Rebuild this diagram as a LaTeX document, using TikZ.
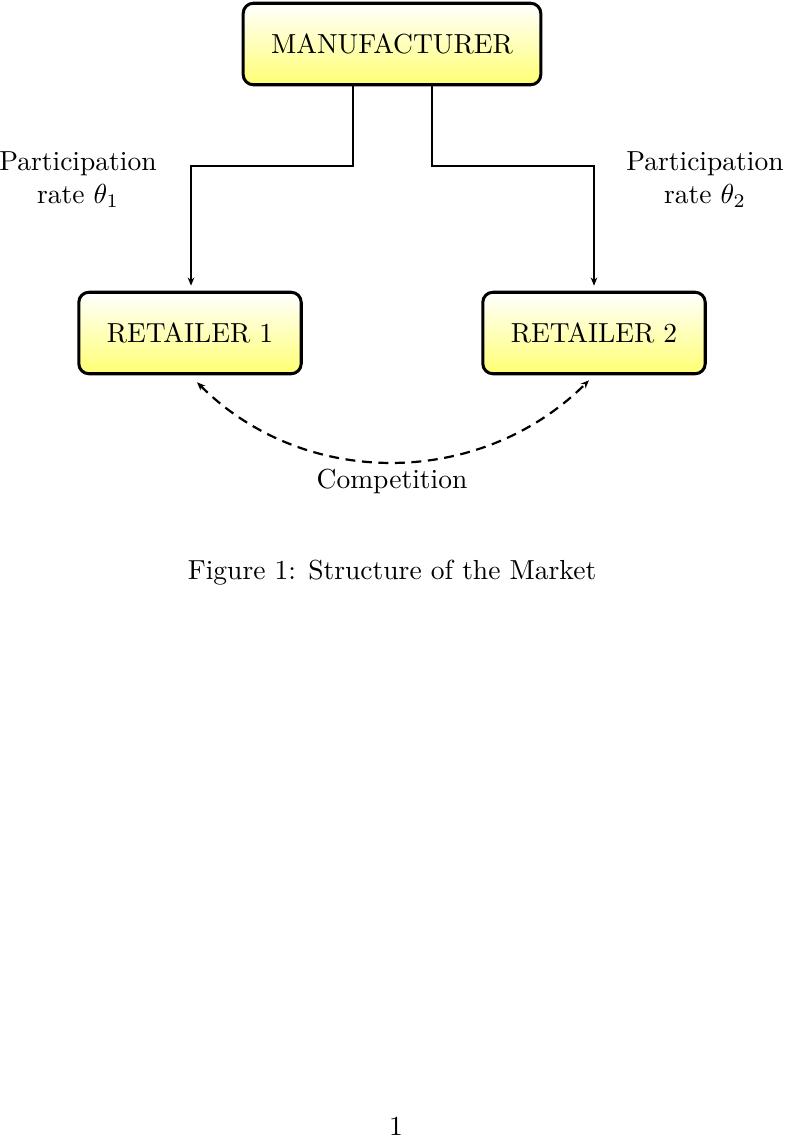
\documentclass[tikz,border=0pt]{standalone}
\usetikzlibrary{arrows.meta,shadings}
\tikzset{
  box/.style={draw, line width=1.1pt, rounded corners=3.7pt, top color=white, bottom color=yellow!55, align=center, inner sep=0pt},
  conn/.style={line width=0.65pt, -{Stealth[length=3pt,width=2.4pt]}},
  comp/.style={line width=0.8pt, dash pattern=on 3.6pt off 2.4pt, {Stealth[length=3pt,width=2.4pt]}-{Stealth[length=3pt,width=2.4pt]}},
  lbl/.style={align=center, inner sep=0pt}
}
\begin{document}
\begin{tikzpicture}[x=0.3632pt, y=-0.3632pt]
\useasboundingbox (0,0) rectangle (784,1137);
\node[box, minimum width=108.1pt, minimum height=29.6pt] (m) at (392,44) {MANUFACTURER};
\node[box, minimum width=80.8pt, minimum height=29.6pt] (r1) at (190,333) {RETAILER 1};
\node[box, minimum width=80.8pt, minimum height=29.6pt] (r2) at (594,333) {RETAILER 2};
\draw[conn] ([shift={(-39,0)}]m.south) -- ++(0,80) -| ([shift={(1,-5)}]r1.north);
\draw[conn] ([shift={(40,0)}]m.south) -- ++(0,80) -| ([shift={(0,-5)}]r2.north);
\node[lbl] (l1) at (78,180) {Participation\\rate $\theta_1$};
\node[lbl] (l2) at (705,180) {Participation\\rate $\theta_2$};
\draw[comp] ([shift={(7,7)}]r1.south) .. controls (305,490) and (481,488) .. ([shift={(-5,5)}]r2.south);
\node[lbl] (c) at (392,481) {Competition};
\node[lbl] (cap) at (392,573) {Figure 1: Structure of the Market};
\node[lbl] (pg) at (396,1126) {1};
\end{tikzpicture}
\end{document}
